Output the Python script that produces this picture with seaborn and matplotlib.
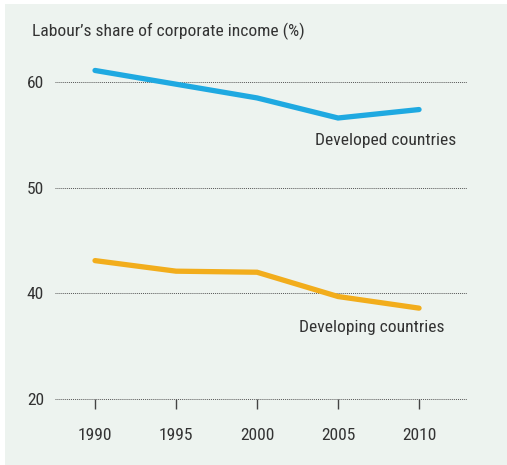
import pandas as pd
import matplotlib.pyplot as plt
import seaborn as sns
from matplotlib.patches import Rectangle

# Dados
anos = [1990, 1995, 2000, 2005, 2010]
paises_desenvolvidos = [61.1, 59.8, 58.5, 56.6, 57.4]
paises_em_desenvolvimento = [43.1, 42.1, 42.0, 39.7, 38.6]
# o eixo é quebrado: a última linha (posição 30) leva o rótulo "20"
ticks_y = [30, 40, 50, 60]
rotulos_y = ['20', '40', '50', '60']

df = pd.DataFrame({
    'Ano': anos * 2,
    'Valor': paises_desenvolvidos + paises_em_desenvolvimento,
    'Grupo': ['Developed countries'] * 5 + ['Developing countries'] * 5,
})

sns.set_style('white')
plt.rcParams['font.family'] = ['Roboto Condensed', 'Liberation Sans Narrow', 'Roboto', 'DejaVu Sans']
TAM = 12.6

W, H = 507, 465
fig = plt.figure(figsize=(W / 100, H / 100), dpi=100, facecolor='white')
fig.patches.append(Rectangle((5 / W, 0), 1, (H - 4) / H, transform=fig.transFigure,
                             facecolor='#edf3ef', edgecolor='none', zorder=-10))

# eixos: de x=55 a 467 px, de y=60 a 399 px
ax = fig.add_axes([55 / W, 1 - 399 / H, 412 / W, 339 / H])
ax.set_facecolor('none')

cores = {'Developed countries': '#1fa9e1', 'Developing countries': '#f2ad1c'}
sns.lineplot(data=df, x='Ano', y='Valor', hue='Grupo', palette=cores,
             linewidth=3.8, legend=False, ax=ax, zorder=3)
for linha in ax.lines:
    linha.set_solid_capstyle('round')
    linha.set_solid_joinstyle('miter')

ax.set_xlim(1987.53, 2012.96)
ax.set_ylim(30, 62.09)
for v in ticks_y:
    ax.axhline(v, color='#555555', linestyle=(0, (1, 1)), linewidth=0.7,
               zorder=1, clip_on=False)

ax.set_xticks(anos)
ax.set_yticks(ticks_y)
ax.set_yticklabels(rotulos_y)
ax.tick_params(axis='x', bottom=True, direction='out', length=7, width=1,
               color='#444444', pad=14, labelsize=TAM, labelcolor='#333333')
ax.tick_params(axis='y', left=False, length=0, pad=8, labelsize=TAM,
               labelcolor='#333333')
for s in ax.spines.values():
    s.set_visible(False)
ax.set_xlabel('')
ax.set_ylabel('')

ax.text(2007.96, 54.5, 'Developed countries', ha='center', va='center',
        fontsize=TAM, color='#333333')
ax.text(2007.1, 36.8, 'Developing countries', ha='center', va='center',
        fontsize=TAM, color='#333333')

fig.text(32 / W, 1 - 31 / H, 'Labour’s share of corporate income (%)', ha='left',
         va='center', fontsize=TAM, color='#333333')

plt.savefig('out.png', dpi=100)
plt.close()
